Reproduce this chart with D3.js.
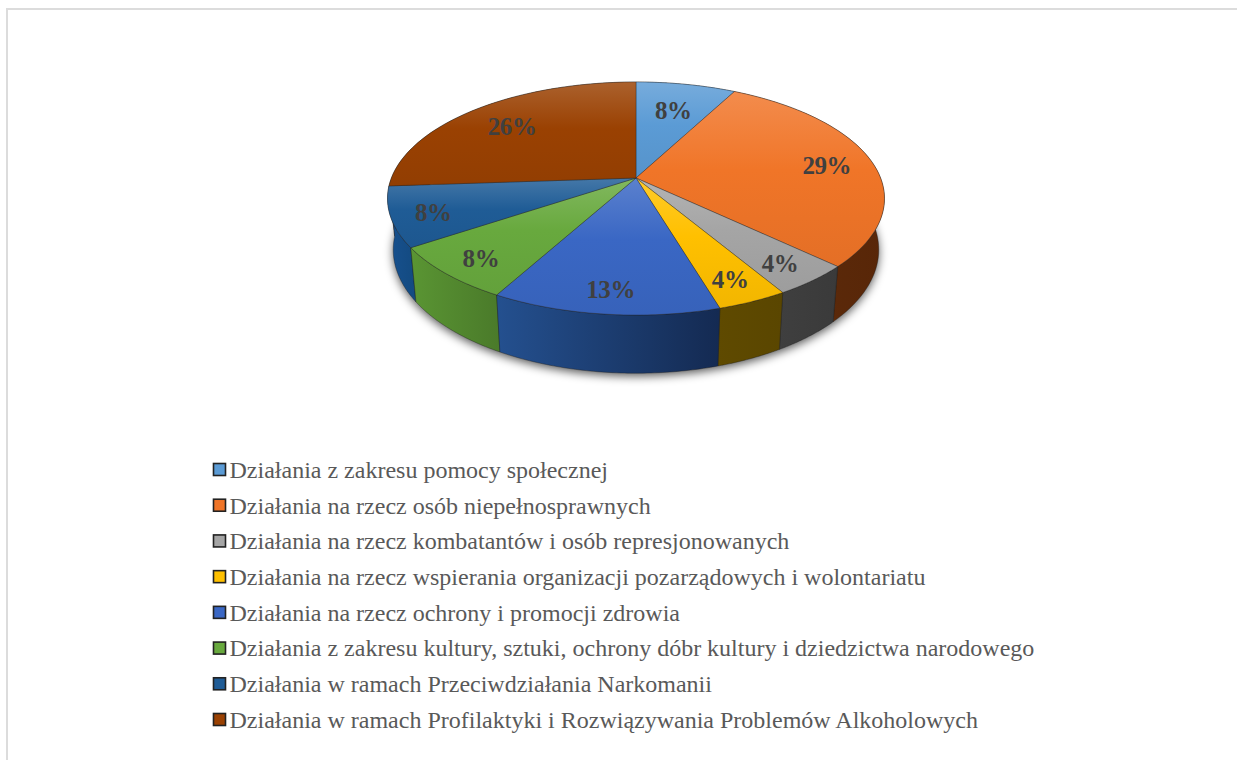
<!DOCTYPE html>
<html>
<head>
<meta charset="utf-8">
<script src="https://cdn.jsdelivr.net/npm/d3@7"></script>
<style>
  html, body { margin: 0; padding: 0; background: #fff; overflow: hidden; }
  svg { display: block; }
</style>
</head>
<body>
<svg id="chart" width="1237" height="760"></svg>
<script>
var categories = [
  "Działania z zakresu pomocy społecznej",
  "Działania na rzecz osób niepełnosprawnych",
  "Działania na rzecz kombatantów i osób represjonowanych",
  "Działania na rzecz wspierania organizacji pozarządowych i wolontariatu",
  "Działania na rzecz ochrony i promocji zdrowia",
  "Działania z zakresu kultury, sztuki, ochrony dóbr kultury i dziedzictwa narodowego",
  "Działania w ramach Przeciwdziałania Narkomanii",
  "Działania w ramach Profilaktyki i Rozwiązywania Problemów Alkoholowych"
];
var shares = [7.7, 29.4, 4.4, 3.9, 12.6, 7.6, 8.3, 26.1];
var colors = ["#5b9bd5", "#f07528", "#a5a5a5", "#ffc000", "#3a67c4", "#68a93e", "#1f5c96", "#9a4102"];
var wallLeft = ["#2f5f8e", "#5f2e0c", "#3f3f3f", "#5f4a00", "#24508f", "#5a9533", "#17518f", "#5a2a08"];
var wallRight = ["#2f5f8e", "#582608", "#3a3a3a", "#5a4600", "#142a52", "#4a7a2a", "#134a80", "#5a2a08"];

var svg = d3.select("#chart");
var defs = svg.append("defs");

// frame of the picture
svg.append("path")
  .attr("d", "M7,760V9H1237")
  .attr("fill", "none")
  .attr("stroke", "#dcdcdc")
  .attr("stroke-width", 2);

/* perspective of the disc: a = tilt, apex is where all slices meet */
var apexX = 636, apexY = 178, radiusX = 244.6, radiusY = 112.9, tilt = 0.176;
var wallHeight = 50, wallShrinkX = 0.977, wallGrowY = 1.06;

function topPoint(angle, r) {
  var u = r * Math.sin(angle), v = -r * Math.cos(angle);
  var w = 1 / (1 - tilt * v);
  return [apexX + radiusX * u * w, apexY + radiusY * v * w];
}
function bottomPoint(angle) {
  var p = topPoint(angle, 1);
  return [apexX + (p[0] - apexX) * wallShrinkX, apexY + wallHeight + (p[1] - apexY) * wallGrowY];
}
function rimAngles(d) {
  return d3.range(0, 61).map(function(i) {
    return d.startAngle + (d.endAngle - d.startAngle) * i / 60;
  });
}

var pie = d3.pie().sort(null)(shares);
var line = d3.line();

// soft shadow below the disc
var blur = defs.append("filter").attr("id", "shadow")
  .attr("x", "-20%").attr("y", "-20%").attr("width", "140%").attr("height", "140%");
blur.append("feGaussianBlur").attr("stdDeviation", 5);

var whole = d3.range(0, 121).map(function(i) { return i / 120 * 2 * Math.PI; });
svg.append("path")
  .attr("d", line(whole.map(bottomPoint)) + "Z")
  .attr("transform", "translate(0,3)")
  .attr("fill", "#000")
  .attr("fill-opacity", 0.65)
  .attr("filter", "url(#shadow)");

// gradients
pie.forEach(function(d, i) {
  var g = defs.append("linearGradient").attr("id", "top" + i)
    .attr("x1", 0).attr("y1", 0).attr("x2", 0).attr("y2", 1);
  g.append("stop").attr("offset", 0).attr("stop-color", d3.interpolateRgb(colors[i], "#fff")(0.17));
  g.append("stop").attr("offset", 0.45).attr("stop-color", colors[i]);
  g.append("stop").attr("offset", 1).attr("stop-color", d3.interpolateRgb(colors[i], "#000")(0.05));

  var s = defs.append("linearGradient").attr("id", "wall" + i)
    .attr("x1", 0).attr("y1", 0).attr("x2", 1).attr("y2", 0);
  s.append("stop").attr("offset", 0).attr("stop-color", wallLeft[i]);
  s.append("stop").attr("offset", 1).attr("stop-color", wallRight[i]);
});

// walls, back ones first
var byDepth = pie.slice().sort(function(a, b) {
  return -Math.cos((a.startAngle + a.endAngle) / 2) - -Math.cos((b.startAngle + b.endAngle) / 2);
});
svg.append("g").selectAll("path")
  .data(byDepth)
  .join("path")
  .attr("d", function(d) {
    var a = rimAngles(d);
    return line(a.map(function(t) { return topPoint(t, 1); }).concat(a.slice().reverse().map(bottomPoint))) + "Z";
  })
  .attr("fill", function(d) { return "url(#wall" + d.index + ")"; })
  .attr("stroke", "#1a1a1a")
  .attr("stroke-opacity", 0.45)
  .attr("stroke-width", 0.8);

// top of the disc
svg.append("g").selectAll("path")
  .data(pie)
  .join("path")
  .attr("d", function(d) {
    var a = rimAngles(d);
    return line([[apexX, apexY]].concat(a.map(function(t) { return topPoint(t, 1); }))) + "Z";
  })
  .attr("fill", function(d, i) { return "url(#top" + i + ")"; })
  .attr("stroke", "#222")
  .attr("stroke-opacity", 0.45)
  .attr("stroke-width", 0.8)
  .attr("stroke-linejoin", "round");

// percent labels, further out at the sides and towards the viewer
svg.append("g").selectAll("text")
  .data(pie)
  .join("text")
  .attr("transform", function(d) {
    var mid = (d.startAngle + d.endAngle) / 2;
    var r = 0.77 - 0.06 * Math.cos(mid) + 0.05 * Math.sin(mid) * Math.sin(mid);
    var p = topPoint(mid, r);
    return "translate(" + p[0] + "," + p[1] + ")";
  })
  .attr("text-anchor", "middle")
  .attr("dy", "0.42em")
  .attr("font-family", "'Liberation Serif', serif")
  .attr("font-weight", "bold")
  .attr("font-size", 25)
  .attr("letter-spacing", -0.4)
  .attr("fill", "#404040")
  .text(function(d) { return Math.round(d.value) + "%"; });

// legend
var rowY = d3.scalePoint().domain(categories).range([470, 720]);
var rows = svg.append("g").selectAll("g")
  .data(categories)
  .join("g")
  .attr("transform", function(d) { return "translate(213," + rowY(d) + ")"; });

rows.append("rect")
  .attr("x", 0.5).attr("y", -6.5)
  .attr("width", 12).attr("height", 12)
  .attr("fill", function(d, i) { return colors[i]; })
  .attr("stroke", "#222")
  .attr("stroke-width", 1.6);

rows.append("text")
  .attr("x", 16.5)
  .attr("dy", "0.33em")
  .attr("font-family", "'Liberation Serif', serif")
  .attr("font-size", 24)
  .attr("fill", "#595959")
  .text(function(d) { return d; });
</script>
</body>
</html>
